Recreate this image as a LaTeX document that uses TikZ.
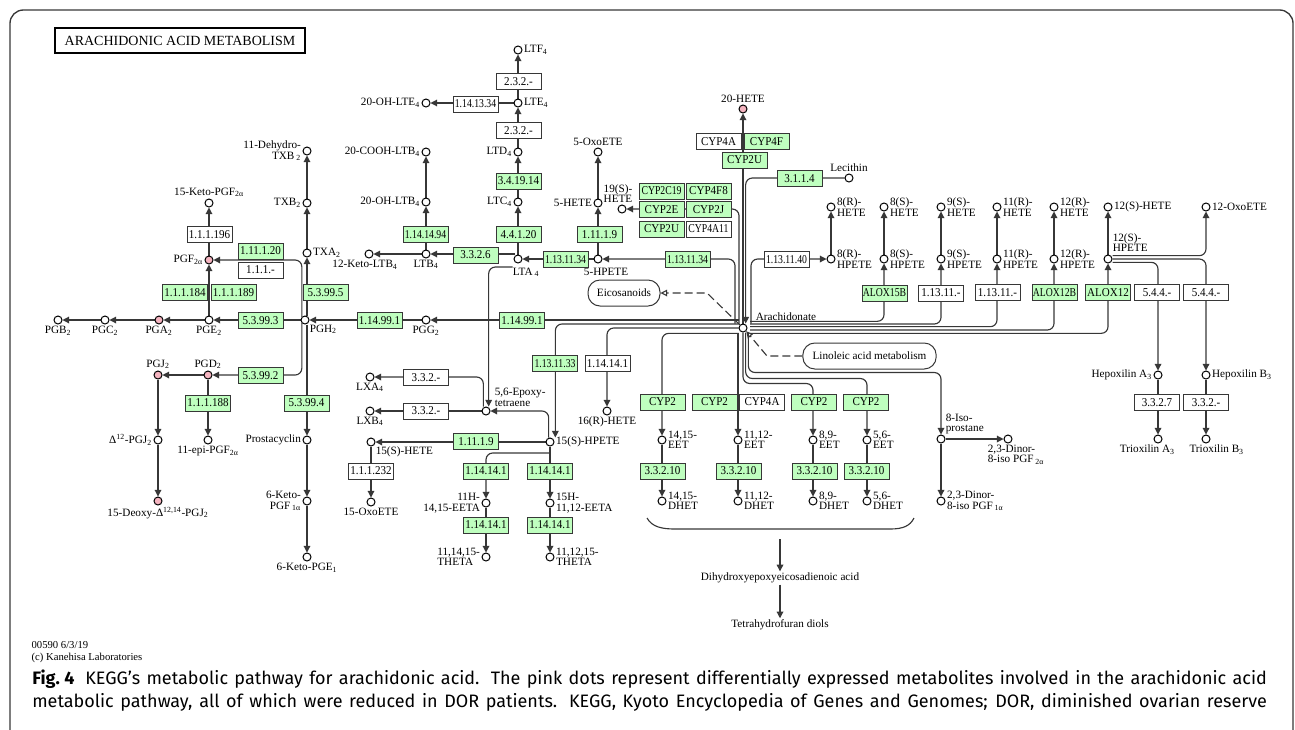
\documentclass[tikz,border=0pt]{standalone}
\usepackage{fontspec}
\setmainfont{Liberation Serif}
\newfontfamily\capfont{Fira Sans}
\newfontfamily\boxfont[FakeStretch=0.92]{Liberation Serif}
\usepackage{graphicx}
\usepackage{tikz}
\usetikzlibrary{arrows.meta, positioning}
\pgfdeclarelayer{bg}
\pgfsetlayers{bg,main}
\definecolor{kgreen}{RGB}{191,255,191}
\definecolor{kpink}{RGB}{245,180,192}
\definecolor{kline}{RGB}{55,55,55}
\newcommand{\kf}{\fontsize{8.4}{7.8}\selectfont}
\newcommand{\kbf}{\boxfont\fontsize{9}{9}\selectfont}
\newcommand{\ksub}[1]{\textsubscript{#1}}
\newcommand{\sq}[1]{\scalebox{0.88}[1]{#1}}

\begin{document}
\begin{tikzpicture}[x=0.75pt, y=-0.75pt,
    cpd/.style={circle, draw=black, fill=white, line width=0.75pt, minimum size=6pt, inner sep=0pt, label distance=0.5pt},
    dex/.style={cpd, fill=kpink},
    enz/.style={rectangle, draw=kline, fill=kgreen, line width=0.7pt, minimum width=33.75pt, minimum height=12pt, inner sep=0pt, font=\kbf},
    ko/.style={enz, fill=white},
    lbl/.style={font=\kf, inner sep=1pt, align=center},
    map/.style={rectangle, rounded corners=9pt, draw=kline, line width=0.75pt, minimum height=19.5pt, font=\kf},
    rel/.style={draw=kline, line width=0.85pt, rounded corners=5pt},
    arr/.style={rel, -{Triangle[length=5pt, width=5pt]}},
    dasharr/.style={draw=kline, line width=0.85pt, dash pattern=on 6pt off 3pt, -{Triangle[open, length=5pt, width=5pt]}},
    capline/.style={anchor=base west, inner sep=0pt, font=\capfont\fontsize{13.5}{15}\selectfont},
    every label/.style={font=\kf, inner sep=1pt, align=left}]
  \useasboundingbox (0,0) rectangle (1295,729);
  \draw[draw=kline, line width=1pt, rounded corners=10pt] (10,740) -- (10,10) -- (1293,10) -- (1293,740);
  \node[rectangle, draw=black, line width=1.1pt, minimum width=187.5pt, minimum height=18.75pt,
        font=\fontsize{10.5}{11}\selectfont] (title) at (180,40.5) {ARACHIDONIC ACID METABOLISM};

  % prostanoids
  \node[cpd, label={[align=right]left:11-Dehydro-\\TXB\,\ksub{2}}] (dtxb2) at (307,151) {};
  \node[cpd, label={left:TXB\ksub{2}}] (txb2) at (307,203) {};
  \node[cpd, label={right:TXA\ksub{2}}] (txa2) at (307,253) {};
  \node[cpd, label={south east:PGH\ksub{2}}] (pgh2) at (305,320) {};
  \node[cpd, label={above:15-Keto-PGF\ksub{2α}}] (k15pgf) at (209,203) {};
  \node[dex, label={left:PGF\ksub{2α}}] (pgf2a) at (209,260) {};
  \node[cpd, label={below:PGE\ksub{2}}] (pge2) at (209,320) {};
  \node[dex, label={below:PGA\ksub{2}}] (pga2) at (159,320) {};
  \node[cpd, label={below:PGC\ksub{2}}] (pgc2) at (105,320) {};
  \node[cpd, label={below:PGB\ksub{2}}] (pgb2) at (58,320) {};
  \node[dex, label={above:PGD\ksub{2}}] (pgd2) at (208,375) {};
  \node[dex, label={above:PGJ\ksub{2}}] (pgj2) at (158,375) {};
  \node[cpd, label={left:Δ\textsuperscript{12}-PGJ\ksub{2}}] (d12pgj2) at (158,440) {};
  \node[cpd, label={below:11-epi-PGF\ksub{2α}}] (epipgf) at (208,440) {};
  \node[dex, label={below:15-Deoxy-Δ\textsuperscript{12,14}-PGJ\ksub{2}}] (dxpgj2) at (158,501) {};
  \node[cpd, label={left:Prostacyclin}] (pgi2) at (307,440) {};
  \node[cpd, label={[align=right]left:6-Keto-\\PGF\,\ksub{1α}}] (kpgf1a) at (307,501) {};
  \node[cpd, label={below:6-Keto-PGE\ksub{1}}] (kpge1) at (307,557) {};

  \node[ko] (e111196) at (209.5,234.5) {1.1.1.196};
  \node[enz] (e111120) at (260.5,251) {1.11.1.20};
  \node[ko] (e111m) at (260.5,270) {1.1.1.-};
  \node[enz] (e111184) at (185,292.5) {1.1.1.184};
  \node[enz] (e111189) at (233.5,292.5) {1.1.1.189};
  \node[enz] (e53995) at (325.5,292.5) {5.3.99.5};
  \node[enz] (e53993) at (260.5,320.5) {5.3.99.3};
  \node[enz] (e53992) at (260.5,375.5) {5.3.99.2};
  \node[enz] (e111188) at (208,403) {1.1.1.188};
  \node[enz] (e53994) at (306.5,403) {5.3.99.4};
  \node[enz] (e11499a) at (379.5,320.5) {1.14.99.1};
  \node[enz] (e11499b) at (522,320.5) {1.14.99.1};

  % leukotrienes and lipoxins
  \node[cpd, label={right:LTF\ksub{4}}] (ltf4) at (518,50) {};
  \node[cpd, label={right:LTE\ksub{4}}] (lte4) at (518,103) {};
  \node[cpd, label={left:20-OH-LTE\ksub{4}}] (ohlte4) at (426,103) {};
  \node[cpd, label={left:LTD\ksub{4}}] (ltd4) at (518,152) {};
  \node[cpd, label={left:LTC\ksub{4}}] (ltc4) at (518,202) {};
  \node[cpd, label={left:20-COOH-LTB\ksub{4}}] (cooh) at (426,152) {};
  \node[cpd, label={left:20-OH-LTB\ksub{4}}] (ohltb4) at (426,202) {};
  \node[cpd, label={below:LTB\ksub{4}}] (ltb4) at (426,254) {};
  \node[cpd, label={[xshift=-3pt]below:12-Keto-LTB\ksub{4}}] (kltb4) at (369,254) {};
  \node[cpd, label={[xshift=6pt,yshift=-2pt]below:LTA\,\ksub{4}}] (lta4) at (518,259) {};
  \node[cpd, label={[xshift=6pt,yshift=-2pt]below:5-HPETE}] (hpete5) at (598,259) {};
  \node[cpd, label={left:5-HETE}] (hete5) at (598,203) {};
  \node[cpd, label={above:5-OxoETE}] (oxo5) at (598,152) {};
  \node[cpd, label={[xshift=-3pt]above:19(S)-\\HETE}] (hete19) at (622,209) {};
  \node[cpd, label={below:PGG\ksub{2}}] (pgg2) at (426,320) {};
  \node[cpd, label={below:LXA\ksub{4}}] (lxa4) at (370,377) {};
  \node[cpd, label={below:LXB\ksub{4}}] (lxb4) at (370,411) {};
  \node[cpd, label={[xshift=3pt]north east:5,6-Epoxy-\\tetraene}] (epoxy) at (486,411) {};
  \node[cpd, label={right:15(S)-HPETE}] (hpete15) at (550,442) {};
  \node[cpd, label={south east:15(S)-HETE}] (hete15) at (371,442) {};
  \node[cpd, label={below:15-OxoETE}] (oxo15) at (371,502) {};
  \node[cpd, label={below:16(R)-HETE}] (hete16) at (607,411) {};
  \node[cpd, label={[align=right]left:11H-\\14,15-EETA}] (eeta11) at (486,503) {};
  \node[cpd, label={right:15H-\\11,12-EETA}] (eeta15) at (550,503) {};
  \node[cpd, label={left:11,14,15-\\THETA}] (theta1) at (486,557) {};
  \node[cpd, label={right:11,12,15-\\THETA}] (theta2) at (550,557) {};
  \coordinate (b15) at (550,453);

  \node[ko] (e232b) at (518.5,81.5) {2.3.2.-};
  \node[ko] (e1141334) at (475.5,104) {\sq{1.14.13.34}};
  \node[ko] (e232a) at (518.5,130.5) {2.3.2.-};
  \node[enz] (e341914) at (518.5,181) {3.4.19.14};
  \node[enz] (e1141494) at (425.5,234.5) {\sq{1.14.14.94}};
  \node[enz] (e44120) at (518.5,234.5) {4.4.1.20};
  \node[enz] (e11119a) at (599.5,234.5) {1.11.1.9};
  \node[enz] (e3326) at (475.5,255) {3.3.2.6};
  \node[enz] (e1131134a) at (565.5,259.5) {\sq{1.13.11.34}};
  \node[enz] (e1131134b) at (687.5,259.5) {\sq{1.13.11.34}};
  \node[enz] (e1131133) at (555,363.5) {\sq{1.13.11.33}};
  \node[ko] (e114141a) at (607.5,363.5) {1.14.14.1};
  \node[ko] (e332a) at (426,377.5) {3.3.2.-};
  \node[ko] (e332b) at (426,411) {3.3.2.-};
  \node[enz] (e11119b) at (476,441.5) {1.11.1.9};
  \node[ko] (e111232) at (371,471) {1.1.1.232};
  \node[enz] (e114141b) at (486,471) {1.14.14.1};
  \node[enz] (e114141c) at (550,471) {1.14.14.1};
  \node[enz] (e114141d) at (486,525) {1.14.14.1};
  \node[enz] (e114141e) at (550,525) {1.14.14.1};

  % arachidonate and its right side
  \node[cpd, label={[xshift=6pt,yshift=2pt]north east:Arachidonate}] (arach) at (743,328) {};
  \node[dex, label={above:20-HETE}] (hete20) at (743,109) {};
  \node[cpd, label={above:Lecithin}] (lecithin) at (849,178) {};
  \node[cpd, label={right:8(R)-\\HETE}] (hete8r) at (831,207) {};
  \node[cpd, label={right:8(S)-\\HETE}] (hete8s) at (884,207) {};
  \node[cpd, label={right:9(S)-\\HETE}] (hete9s) at (941,207) {};
  \node[cpd, label={right:11(R)-\\HETE}] (hete11r) at (997,207) {};
  \node[cpd, label={right:12(R)-\\HETE}] (hete12r) at (1054,207) {};
  \node[cpd, label={right:12(S)-HETE}] (hete12s) at (1108,207) {};
  \node[cpd, label={right:12-OxoETE}] (oxo12) at (1206,207) {};
  \node[cpd, label={right:8(R)-\\HPETE}] (hpete8r) at (831,259) {};
  \node[cpd, label={right:8(S)-\\HPETE}] (hpete8s) at (884,259) {};
  \node[cpd, label={right:9(S)-\\HPETE}] (hpete9s) at (941,259) {};
  \node[cpd, label={right:11(R)-\\HPETE}] (hpete11r) at (997,259) {};
  \node[cpd, label={right:12(R)-\\HPETE}] (hpete12r) at (1054,259) {};
  \node[cpd, label={[yshift=2pt]north east:12(S)-\\HPETE}] (hpete12s) at (1108,259) {};
  \node[cpd, label={left:Hepoxilin A\ksub{3}}] (hxa3) at (1158,375) {};
  \node[cpd, label={right:Hepoxilin B\ksub{3}}] (hxb3) at (1206,375) {};
  \node[cpd, label={[xshift=-8pt]below:Trioxilin A\ksub{3}}] (trxa3) at (1158,439) {};
  \node[cpd, label={[xshift=8pt]below:Trioxilin B\ksub{3}}] (trxb3) at (1206,439) {};
  \node[cpd, label={right:14,15-\\EET}] (eet1415) at (662,440) {};
  \node[cpd, label={right:11,12-\\EET}] (eet1112) at (738,440) {};
  \node[cpd, label={right:8,9-\\EET}] (eet89) at (813,440) {};
  \node[cpd, label={right:5,6-\\EET}] (eet56) at (867,440) {};
  \node[cpd, label={right:14,15-\\DHET}] (dhet1415) at (662,501) {};
  \node[cpd, label={right:11,12-\\DHET}] (dhet1112) at (738,501) {};
  \node[cpd, label={right:8,9-\\DHET}] (dhet89) at (813,501) {};
  \node[cpd, label={right:5,6-\\DHET}] (dhet56) at (867,501) {};
  \node[cpd, label={north east:8-Iso-\\prostane}] (iso8) at (941,439) {};
  \node[cpd, label={[xshift=6pt]below:2,3-Dinor-\\8-iso PGF\,\ksub{2α}}] (dinor2a) at (1008,439) {};
  \node[cpd, label={right:2,3-Dinor-\\8-iso PGF\,\ksub{1α}}] (dinor1a) at (941,501) {};

  \node[ko] (cyp4a) at (718.5,141.5) {CYP4A};
  \node[enz] (cyp4f) at (766.5,141.5) {CYP4F};
  \node[enz] (cyp2ua) at (744.5,160) {CYP2U};
  \node[enz] (e3114) at (799.5,178.5) {3.1.1.4};
  \node[enz] (cyp2c19) at (661.5,191) {\sq{CYP2C19}};
  \node[enz] (cyp4f8) at (708.5,191) {CYP4F8};
  \node[enz] (cyp2e) at (661.5,209.5) {CYP2E};
  \node[enz] (cyp2j) at (708.5,209.5) {CYP2J};
  \node[enz] (cyp2ub) at (661.5,229) {CYP2U};
  \node[ko] (cyp4a11) at (708.5,229) {\sq{CYP4A11}};
  \node[ko] (e1131140) at (786.5,259.5) {\sq{1.13.11.40}};
  \node[enz] (alox15b) at (884.5,293) {\sq{ALOX15B}};
  \node[ko] (e11311a) at (941,293) {1.13.11.-};
  \node[ko] (e11311b) at (997.5,292.5) {1.13.11.-};
  \node[enz] (alox12b) at (1054.5,292.5) {\sq{ALOX12B}};
  \node[enz] (alox12) at (1108,292.5) {ALOX12};
  \node[ko] (e544a) at (1157,292.5) {5.4.4.-};
  \node[ko] (e544b) at (1206,292.5) {5.4.4.-};
  \node[ko] (e3327) at (1157,402.5) {3.3.2.7};
  \node[ko] (e332c) at (1206,402.5) {3.3.2.-};
  \node[enz] (cyp2a) at (662.5,402) {CYP2};
  \node[enz] (cyp2b) at (714.5,402) {CYP2};
  \node[ko] (cyp4ab) at (762,402) {CYP4A};
  \node[enz] (cyp2c) at (814,402) {CYP2};
  \node[enz] (cyp2d) at (866,402) {CYP2};
  \node[enz] (e33210a) at (662.5,471) {3.3.2.10};
  \node[enz] (e33210b) at (738.5,471) {3.3.2.10};
  \node[enz] (e33210c) at (814.5,471) {3.3.2.10};
  \node[enz] (e33210d) at (866.5,471) {3.3.2.10};

  \node[map, minimum width=54pt] (eicos) at (624,293) {Eicosanoids};
  \node[map, minimum width=100pt] (linoleic) at (869.5,356) {Linoleic acid metabolism};
  \node[lbl] (dhea) at (780,578) {Dihydroxyepoxyeicosadienoic acid};
  \node[lbl] (thfd) at (780,625) {Tetrahydrofuran diols};
  \coordinate (brtip) at (780,539);
  \coordinate (eicbend) at (707,293);
  \coordinate (linbend) at (767,356);
  \node[lbl, align=left, anchor=north west, font=\fontsize{8}{8.5}\selectfont] (stamp) at (30,640) {00590 6/3/19\\(c) Kanehisa Laboratories};

  \begin{pgfonlayer}{bg}
    % prostanoid branch
    \draw[arr] (txb2) -- (dtxb2);
    \draw[arr] (txa2) -- (txb2);
    \draw[arr] (pgh2.north -| txa2) -- (txa2);
    \draw[arr] (pgh2.north west) |- (pgf2a);
    \draw[arr] (pgh2.south west) |- (pgd2);
    \draw[arr] (pgh2.south -| pgi2) -- (pgi2);
    \draw[arr] (pgi2) -- (kpgf1a);
    \draw[arr] (kpgf1a) -- (kpge1);
    \draw[arr] (pgh2) -- (pge2);
    \draw[arr] (pge2) -- (pga2);
    \draw[arr] (pga2) -- (pgc2);
    \draw[arr] (pgc2) -- (pgb2);
    \draw[arr] (pge2) -- (pgf2a);
    \draw[arr] (pgf2a) -- (k15pgf);
    \draw[arr] (pgd2) -- (pgj2);
    \draw[arr] (pgd2) -- (epipgf);
    \draw[arr] (pgj2) -- (d12pgj2);
    \draw[arr] (d12pgj2) -- (dxpgj2);
    \draw[arr] (pgg2) -- (pgh2);
    \draw[arr] (arach.west |- pgg2) -- (pgg2);

    % leukotriene branch
    \draw[arr] (hpete5) -- (hete5);
    \draw[arr] (hete5) -- (oxo5);
    \draw[arr] (hpete5) -- (lta4);
    \draw[arr] (lta4) -- (ltc4);
    \draw[arr] (ltc4) -- (ltd4);
    \draw[arr] (ltd4) -- (lte4);
    \draw[arr] (lte4) -- (ltf4);
    \draw[arr] (lte4) -- (ohlte4);
    \draw[arr] (lta4.north west |- ltb4) -- (ltb4);
    \draw[arr] (ltb4) -- (kltb4);
    \draw[arr] (ltb4) -- (ohltb4);
    \draw[arr] (ohltb4) -- (cooh);
    \draw[arr] ([xshift=-4pt,yshift=-6pt]lta4.center) -| ([xshift=2pt]epoxy.north);
    \draw[arr] ([xshift=-1pt]hpete15.north) |- (epoxy);
    \draw[arr] ([xshift=-2pt]epoxy.north) |- (lxa4);
    \draw[arr] (epoxy) -- (lxb4);
    \draw[arr] (hpete15) -- (hete15);
    \draw[arr] (hete15) -- (oxo15);
    \draw[arr] (hpete15) -- (eeta15);
    \draw[arr] (b15) -| (eeta11);
    \draw[arr] (eeta11) -- (theta1);
    \draw[arr] (eeta15) -- (theta2);

    % out of arachidonate
    \draw[arr] ([yshift=3pt]arach.west) -| ([xshift=4pt]hpete15.north);
    \draw[arr] (arach.west) -| (hete16);
    \draw[arr] ([yshift=-4pt]arach.west) -| (eet1415);
    \draw[arr] (arach.south -| eet1112) -- (eet1112);
    \draw[arr] (arach.south) -- ++(0,51) -| (eet89);
    \draw[arr] ([xshift=2pt]arach.south) -- ++(0,46) -| (eet56);
    \draw[arr] ([xshift=4pt]arach.south) -- ++(0,40) -| (iso8);
    \draw[arr] (iso8) -- (dinor2a);
    \draw[arr] (iso8) -- (dinor1a);
    \draw[arr] (eet1415) -- (dhet1415);
    \draw[arr] (eet1112) -- (dhet1112);
    \draw[arr] (eet89) -- (dhet89);
    \draw[arr] (eet56) -- (dhet56);
    \draw[arr] (arach) -- (hete20);
    \draw[arr] ([xshift=-3pt]arach.north) |- (hete19);
    \draw[arr] ([xshift=-6pt]arach.north) |- (hpete5);
    \draw[arr] (lecithin) -| ([xshift=2pt]arach.north);
    \draw[arr] ([xshift=6pt]arach.north) |- (hpete8r);
    \draw[arr] ([xshift=2pt,yshift=5pt]arach.east) -| (hpete8s);
    \draw[arr] ([xshift=2pt,yshift=3pt]arach.east) -| (hpete9s);
    \draw[arr] ([xshift=2pt,yshift=1pt]arach.east) -| (hpete11r);
    \draw[arr] ([xshift=2pt,yshift=-1.5pt]arach.east) -| (hpete12r);
    \draw[arr] ([xshift=2pt,yshift=-4pt]arach.east) -| (hpete12s);
    \draw[arr] (hpete8r) -- (hete8r);
    \draw[arr] (hpete8s) -- (hete8s);
    \draw[arr] (hpete9s) -- (hete9s);
    \draw[arr] (hpete11r) -- (hete11r);
    \draw[arr] (hpete12r) -- (hete12r);
    \draw[arr] (hpete12s) -- (hete12s);
    \draw[arr] ([yshift=2.5pt]hpete12s.east) -| (oxo12);
    \draw[arr] (hpete12s.east) -| (hxb3);
    \draw[arr] ([yshift=-2.5pt]hpete12s.east) -| (hxa3);
    \draw[arr] (hxa3) -- (trxa3);
    \draw[arr] (hxb3) -- (trxb3);

    % map links and the DHET group
    \draw[dasharr] (arach.north west) -- (eicbend) -- (eicos.east);
    \draw[dasharr] (linoleic.west) -- (linbend) -- (arach.south east);
    \draw[rel, rounded corners=0pt] (647,518) .. controls (652,527) and (662,529) .. (675,529) -- (890,529) .. controls (903,529) and (910,526) .. (914,518);
    \draw[arr] (brtip) -- (dhea);
    \draw[arr] (dhea) -- (thfd);
  \end{pgfonlayer}

  % caption, set justified like the page
  \node[capline] (cap1) at (32,684)
    {\makebox[926pt][s]{\mbox{\textbf{Fig.\kern0.25em4}}\hspace{0.6em}KEGG’s metabolic pathway for arachidonic acid. The pink dots represent differentially expressed metabolites involved in the arachidonic acid}};
  \node[capline] (cap2) at (32,707)
    {\makebox[926pt][s]{metabolic pathway, all of which were reduced in DOR patients. KEGG, Kyoto Encyclopedia of Genes and Genomes; DOR, diminished ovarian reserve}};
\end{tikzpicture}
\end{document}
